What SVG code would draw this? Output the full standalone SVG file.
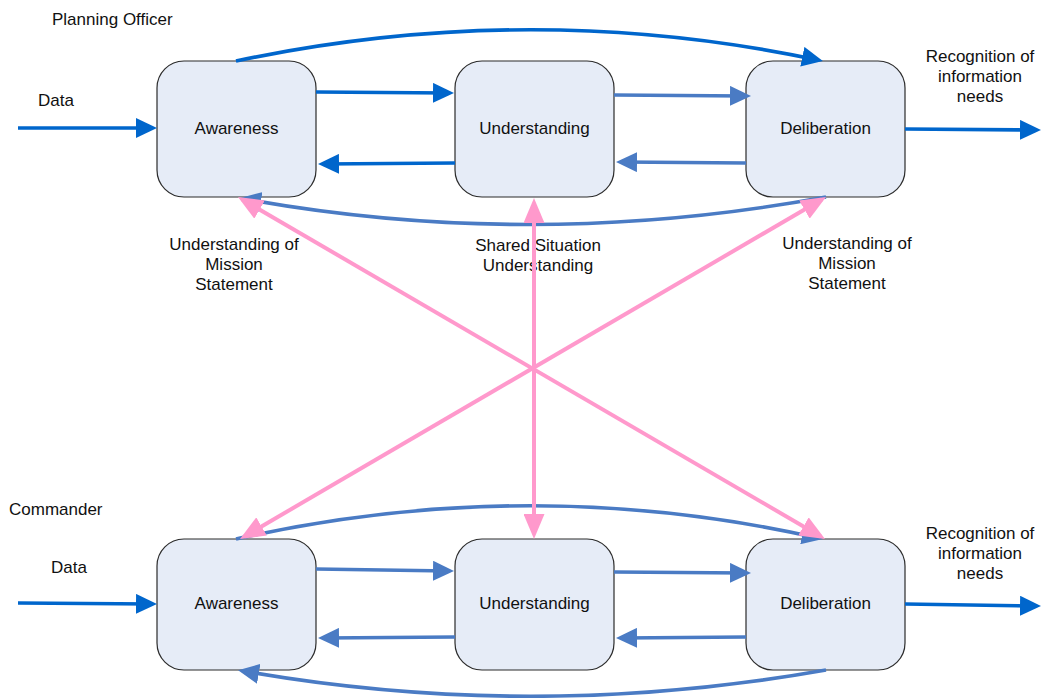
<svg xmlns="http://www.w3.org/2000/svg" width="1042" height="698" viewBox="0 0 1042 698">
  <style>
    text { font-family: "Liberation Sans", Arial, sans-serif; font-size: 17px; fill: #111; }
    .mid { text-anchor: middle; }
    .box { fill: #e6ecf7; stroke: #2b2b2b; stroke-width: 1.2; }
    .strong { fill: none; stroke: #0066cc; stroke-width: 3.6; marker-end: url(#headStrong); }
    .soft { fill: none; stroke: #4a7bc4; stroke-width: 3.6; marker-end: url(#headSoft); }
    .pink { fill: none; stroke: #ff99cc; stroke-width: 4; marker-start: url(#headPink); marker-end: url(#headPink); }
  </style>
  <defs>
    <marker id="headStrong" markerUnits="userSpaceOnUse" viewBox="0 0 21 20" markerWidth="21" markerHeight="20" refX="16" refY="10" orient="auto">
      <path d="M0,0 L21,10 L0,20 z" fill="#0066cc"/>
    </marker>
    <marker id="headSoft" markerUnits="userSpaceOnUse" viewBox="0 0 21 20" markerWidth="21" markerHeight="20" refX="16" refY="10" orient="auto">
      <path d="M0,0 L21,10 L0,20 z" fill="#4a7bc4"/>
    </marker>
    <marker id="headPink" markerUnits="userSpaceOnUse" viewBox="0 0 25 21" markerWidth="25" markerHeight="21" refX="20" refY="10.5" orient="auto-start-reverse">
      <path d="M0,0 L25,10.5 L0,21 z" fill="#ff99cc"/>
    </marker>
  </defs>

  <!-- row titles and free labels -->
  <g id="labels">
    <text x="52" y="25">Planning Officer</text>
    <text x="38" y="106">Data</text>
    <text class="mid" x="980" y="62">Recognition of</text>
    <text class="mid" x="980" y="82">information</text>
    <text class="mid" x="980" y="102">needs</text>

    <text class="mid" x="234" y="250">Understanding of</text>
    <text class="mid" x="234" y="270">Mission</text>
    <text class="mid" x="234" y="290">Statement</text>
    <text class="mid" x="538" y="251">Shared Situation</text>
    <text class="mid" x="538" y="271">Understanding</text>
    <text class="mid" x="847" y="249">Understanding of</text>
    <text class="mid" x="847" y="269">Mission</text>
    <text class="mid" x="847" y="289">Statement</text>

    <text x="9" y="515">Commander</text>
    <text x="51" y="573">Data</text>
    <text class="mid" x="980" y="539">Recognition of</text>
    <text class="mid" x="980" y="559">information</text>
    <text class="mid" x="980" y="579">needs</text>
  </g>

  <!-- planning officer row -->
  <g id="po-awareness">
    <rect class="box" x="157" y="61" width="159" height="136" rx="27"/>
    <text class="mid" x="236.5" y="134">Awareness</text>
  </g>
  <g id="po-understanding">
    <rect class="box" x="455" y="61" width="159" height="136" rx="27"/>
    <text class="mid" x="534.5" y="134">Understanding</text>
  </g>
  <g id="po-deliberation">
    <rect class="box" x="746" y="61" width="159" height="136" rx="27"/>
    <text class="mid" x="825.5" y="134">Deliberation</text>
  </g>

  <!-- commander row -->
  <g id="cmd-awareness">
    <rect class="box" x="157" y="539" width="159" height="131" rx="27"/>
    <text class="mid" x="236.5" y="609">Awareness</text>
  </g>
  <g id="cmd-understanding">
    <rect class="box" x="455" y="539" width="159" height="131" rx="27"/>
    <text class="mid" x="534.5" y="609">Understanding</text>
  </g>
  <g id="cmd-deliberation">
    <rect class="box" x="746" y="539" width="159" height="131" rx="27"/>
    <text class="mid" x="825.5" y="609">Deliberation</text>
  </g>

  <g id="connectors">
    <!-- planning officer flows -->
    <path class="strong" d="M18,128 L152,128"/>
    <path class="strong" d="M316,92 L449,93"/>
    <path class="strong" d="M455,163 L323,164"/>
    <path class="soft" d="M614,95 L746,96"/>
    <path class="soft" d="M746,163 L621,162"/>
    <path class="strong" d="M905,129 L1036,130"/>
    <path class="strong" d="M236,61 Q530,-1 818,60"/>
    <path class="soft" d="M826,197 Q533,251 245,199"/>

    <!-- commander flows -->
    <path class="strong" d="M18,603 L152,604"/>
    <path class="soft" d="M316,569 L449,571"/>
    <path class="soft" d="M614,572 L746,573"/>
    <path class="soft" d="M455,637 L323,638"/>
    <path class="soft" d="M746,637 L621,638"/>
    <path class="strong" d="M905,604 L1036,606"/>
    <path class="soft" d="M236,539 Q530,473 818,538"/>
    <path class="soft" d="M826,670 Q532,722 243,671"/>

    <!-- shared links between the two rows -->
    <path class="pink" d="M242.3,199.5 L820.7,536.5"/>
    <path class="pink" d="M821.7,199.5 L244.3,536.5"/>
    <path class="pink" d="M534,203 L534,534"/>
  </g>
</svg>
